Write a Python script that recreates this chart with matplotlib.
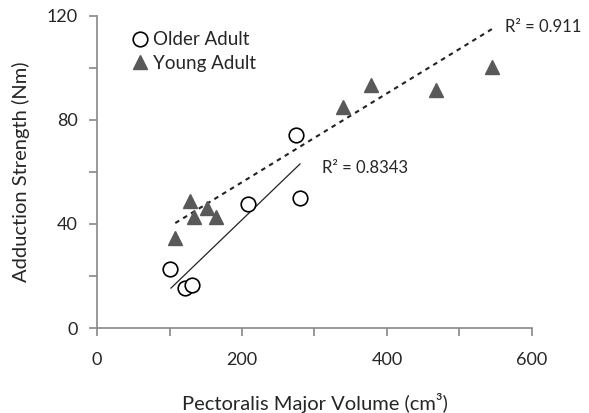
import numpy as np
import matplotlib
matplotlib.use('Agg')
import matplotlib.pyplot as plt

plt.rcParams['font.family'] = ['Lato', 'DejaVu Sans']

# data
older_x = [101, 121, 131, 208, 274, 280]
older_y = [22.6, 15.5, 16.5, 47.8, 74.0, 49.9]
young_x = [108, 128, 134, 152, 164, 339, 378, 468, 545]
young_y = [34.5, 49.0, 42.6, 46.3, 42.8, 85.1, 93.5, 91.5, 100.5]

# trend lines as shown (slope, intercept, x range)
older_fit = (0.268, -12.0)
older_range = [102, 280]
young_fit = (0.1707, 21.9)
young_range = [108, 545]
older_r2 = 'R² = 0.8343'
young_r2 = 'R² = 0.911'

grey = '#888888'
text_col = '#262626'

fig = plt.figure(figsize=(5.89, 4.13), dpi=100)
ax = fig.add_axes([0.1647, 0.2058, 0.7385, 0.756])

ax.plot(older_x, older_y, 'o', ms=10.5, mfc='white', mec='black', mew=1.2,
        label='Older Adult', zorder=3)
ax.plot(young_x, young_y, '^', ms=10.5, mfc='#595959', mec='#595959',
        label='Young Adult', zorder=3)

xs = np.array(older_range)
ax.plot(xs, older_fit[0] * xs + older_fit[1], color='#222222', lw=0.9)
xs = np.array(young_range)
ax.plot(xs, young_fit[0] * xs + young_fit[1], color='#222222', lw=1.5,
        ls=(0, (2.2, 2.2)))

ax.text(311, 61.5, older_r2, fontsize=12, color=text_col, va='center')
ax.text(563, 115.5, young_r2, fontsize=12, color=text_col, va='center')

ax.set_xlim(0, 600)
ax.set_ylim(0, 120)
ax.set_xticks(np.arange(0, 601, 200))
ax.set_xticks(np.arange(0, 601, 100), minor=True)
ax.set_yticks(np.arange(0, 121, 40))
ax.set_yticks(np.arange(0, 121, 20), minor=True)

for s in ['top', 'right']:
    ax.spines[s].set_visible(False)
for s in ['left', 'bottom']:
    ax.spines[s].set_color(grey)
    ax.spines[s].set_linewidth(1.2)

ax.tick_params(which='both', direction='out', length=6, width=1.2, color=grey,
               labelsize=13, labelcolor=text_col)
ax.tick_params(axis='x', which='major', pad=11)
ax.tick_params(axis='y', which='major', pad=8)

ax.set_xlabel('Pectoralis Major Volume (cm³)', fontsize=14.5, color=text_col,
              labelpad=18)
ax.set_ylabel('Adduction Strength (Nm)', fontsize=14.5, color=text_col,
              labelpad=12)

leg = ax.legend(loc='upper left', bbox_to_anchor=(0.06, 0.975), frameon=False,
                fontsize=13.5, handletextpad=0.2, labelspacing=0.35,
                handlelength=1.0, borderaxespad=0)
for t in leg.get_texts():
    t.set_color(text_col)

fig.savefig('out.png', dpi=100)
